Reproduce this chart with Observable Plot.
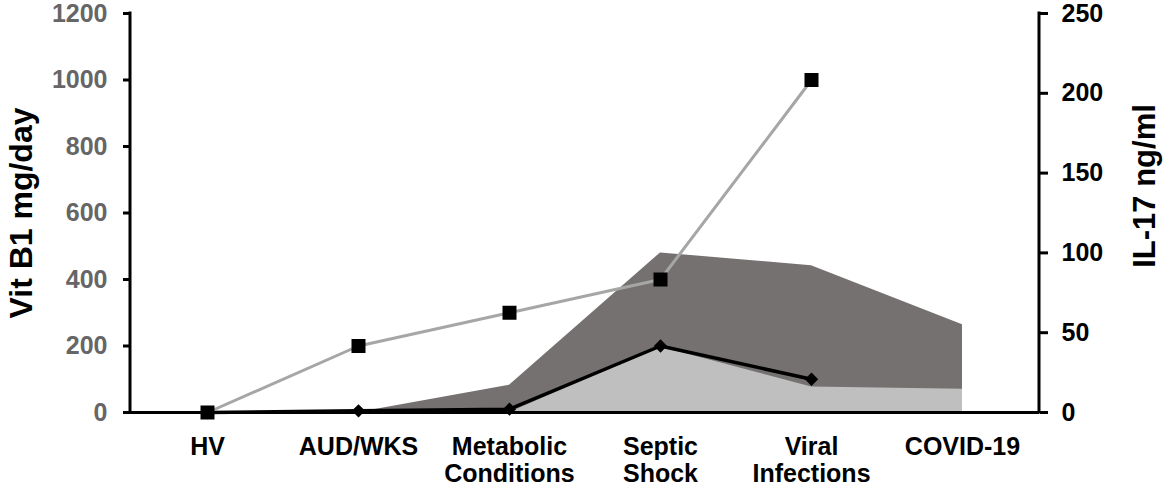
<!DOCTYPE html>
<html>
<head>
<meta charset="utf-8">
<script src="https://cdn.jsdelivr.net/npm/d3@7"></script>
<script src="https://cdn.jsdelivr.net/npm/@observablehq/plot@0.6"></script>
<style>
  html, body { margin: 0; padding: 0; background: #fff; }
  svg { font-family: "Liberation Sans", Arial, sans-serif; }
</style>
</head>
<body>
<div id="chart"></div>
<script>
const categories = ["HV", "AUD/WKS", "Metabolic Conditions", "Septic Shock", "Viral Infections", "COVID-19"];
const tickLabels = ["HV", "AUD/WKS", "Metabolic\nConditions", "Septic\nShock", "Viral\nInfections", "COVID-19"];
// Vit B1 mg/day (left axis)
const vitB1Dose = [0, 200, 300, 400, 1000, null];
const vitB1Low = [0, 5, 10, 200, 100, null];
// IL-17 ng/ml (right axis)
const il17High = [0, 0, 17, 100, 92, 55];
const il17Low = [0, 0, 0, 41, 16, 14.5];
const leftTicks = [0, 200, 400, 600, 800, 1000, 1200];
const rightTicks = [0, 50, 100, 150, 200, 250];
const leftMax = 1200, rightMax = 250;
const k = leftMax / rightMax;

const rows = categories.map((c, i) => ({
  cat: c,
  dose: vitB1Dose[i],
  low: vitB1Low[i],
  il17High: il17High[i] * k,
  il17Low: il17Low[i] * k
}));
const doseRows = rows.filter(d => d.dose != null);
const lowRows = rows.filter(d => d.low != null);
const labelOf = new Map(categories.map((c, i) => [c, tickLabels[i]]));

const W = 1165, H = 487;
const mL = 130, mR = 126, mT = 13, mB = 75;
const font = "Liberation Sans, Arial, sans-serif";

const chart = Plot.plot({
  width: W, height: H,
  marginLeft: mL, marginRight: mR, marginTop: mT, marginBottom: mB,
  style: { fontFamily: font, background: "#fff" },
  x: { type: "point", domain: categories, padding: 0.5 },
  y: { domain: [0, leftMax] },
  marks: [
    Plot.areaY(rows, { x: "cat", y: "il17High", fill: "#767171" }),
    Plot.areaY(rows, { x: "cat", y: "il17Low", fill: "#bfbfbf" }),
    Plot.lineY(lowRows, { x: "cat", y: "low", stroke: "#000", strokeWidth: 3.5 }),
    Plot.lineY(doseRows, { x: "cat", y: "dose", stroke: "#a6a6a6", strokeWidth: 3 }),
    Plot.dot(lowRows, { x: "cat", y: "low", symbol: "diamond2", r: 6, fill: "#000" }),
    Plot.dot(doseRows, { x: "cat", y: "dose", symbol: "square", r: 7.9, fill: "#000" }),
    Plot.ruleY([0], { stroke: "#000", strokeWidth: 3 }),
    Plot.axisY(leftTicks, {
      anchor: "left", label: null, tickSize: 7, tickPadding: 16, strokeWidth: 3,
      stroke: "#000", fill: "#666", fontSize: 25, fontWeight: "bold",
      tickFormat: v => String(v)
    }),
    Plot.axisY(rightTicks.map(v => v * k), {
      anchor: "right", label: null, tickSize: 8, tickPadding: 14, strokeWidth: 3,
      stroke: "#000", fill: "#000", fontSize: 25, fontWeight: "bold",
      tickFormat: v => String(Math.round(v / k))
    }),
    Plot.axisX({
      anchor: "bottom", label: null, tickSize: 0, tickPadding: 23,
      fontSize: 25, fontWeight: "bold", fill: "#000", lineHeight: 1.09,
      tickFormat: c => labelOf.get(c)
    }),
    Plot.text(["Vit B1 mg/day"], {
      text: d => d, frameAnchor: "left", textAnchor: "middle", lineAnchor: "middle",
      rotate: -90, dx: -109,
      fontSize: 32, fontWeight: "bold", fill: "#000"
    }),
    Plot.text(["IL-17 ng/ml"], {
      text: d => d, frameAnchor: "right", textAnchor: "middle", lineAnchor: "middle",
      rotate: -90, dx: 106, dy: -27,
      fontSize: 31, fontWeight: "bold", fill: "#000"
    })
  ]
});

// axis lines along the frame edges, placed through the chart's own y scale
const ys = chart.scale("y");
const svg = d3.select(chart);
[mL, W - mR].forEach(x => {
  svg.append("line")
    .attr("x1", x).attr("x2", x)
    .attr("y1", ys.apply(leftMax) - 1.5).attr("y2", ys.apply(0) + 1.5)
    .attr("stroke", "#000").attr("stroke-width", 3);
});
document.getElementById("chart").appendChild(chart);
</script>
</body>
</html>
